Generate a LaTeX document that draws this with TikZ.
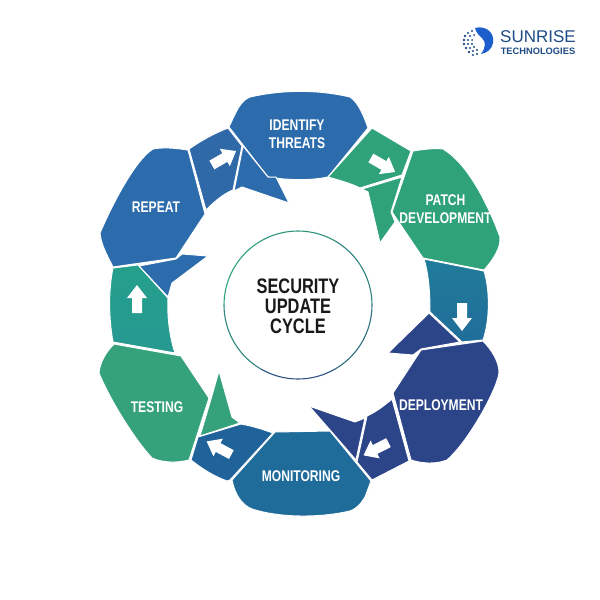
\documentclass[tikz,border=0pt]{standalone}
\usepackage{fontspec}
\setmainfont[FakeStretch=0.78]{Liberation Sans}
\newfontfamily\logofont{Liberation Sans}
\definecolor{cblue}{HTML}{2C6CAC}
\definecolor{cblueb}{HTML}{2F69A8}
\definecolor{cgreen}{HTML}{2FA27A}
\definecolor{cnavy}{HTML}{2C4588}
\definecolor{cmon}{HTML}{1F6C9A}
\definecolor{cleft}{HTML}{20629A}
\definecolor{cteal}{HTML}{25A08C}
\definecolor{cright}{HTML}{1F729C}
\definecolor{ctest}{HTML}{36A27B}
\definecolor{clogo}{HTML}{1F4C85}
\tikzset{
  seg/.style={draw=white,line width=1pt,line join=round},
  lab/.style={text=white,font=\bfseries\fontsize{15.5}{18}\selectfont,align=center,inner sep=0pt},
  ttl/.style={text=black!90,font=\bfseries\fontsize{21}{20}\selectfont,align=center,inner sep=0pt},
  whitearrow/.style={fill=white,draw=none}
}
\newcommand{\warrow}[3]{\fill[whitearrow,shift={(#1,#2)},rotate=-#3] (14,0) -- (1,-10) -- (1,-5) -- (-14,-5) -- (-14,5) -- (1,5) -- (1,10) -- cycle;}
\begin{document}
\begin{tikzpicture}[x=1pt,y=-1pt]
\useasboundingbox (0,0) rectangle (600,600);
\fill[white] (0,0) rectangle (600,600);
% identify threats
\draw[seg,fill=cblue] (229,127) .. controls (236,112) and (240,101) .. (250,97) .. controls (285,89) and (320,90) .. (350,97) .. controls (358,102) and (364,116) .. (368,128) -- (328,177) .. controls (310,181) and (285,180) .. (268,177) -- cycle;
% connector repeat-identify
\draw[seg,fill=cblueb] (189,149) .. controls (202,140) and (215,133) .. (228,128) -- (242,146) -- (233,190) .. controls (223,194) and (214,202) .. (206,210) -- cycle;
\draw[seg,fill=cblue] (243,146) -- (268,177) -- (276,177) -- (289,203) -- (242,187) -- (234,191) -- cycle;
% repeat
\draw[seg,fill=cblue] (188,150) .. controls (175,148) and (163,147) .. (153,149) .. controls (135,160) and (112,205) .. (100,233) .. controls (101,245) and (108,257) .. (113,267) -- (176,258) -- (205,214) -- cycle;
\draw[seg,fill=cblue] (139,266) -- (176,259) -- (182,254) -- (208,256) -- (172,283) -- (168,297) -- cycle;
% left teal connector
\draw[seg,top color=cteal,bottom color=cteal!85!cblue] (113,268) -- (138,265) -- (168,298) .. controls (167,318) and (170,338) .. (175,353) -- (113,342) .. controls (109,320) and (108,292) .. (113,268) -- cycle;
% testing
\draw[seg,fill=ctest] (114,344) -- (181,356) -- (209,398) -- (189,460) .. controls (178,463) and (163,463) .. (152,458) .. controls (135,440) and (110,400) .. (99,373) .. controls (100,362) and (106,352) .. (114,344) -- cycle;
\draw[seg,fill=ctest] (211,399) -- (219,371) -- (232,417) -- (240,423) -- (200,436) -- cycle;
% left blue connector
\draw[seg,fill=cleft] (241,424) .. controls (252,426) and (262,429) .. (273,433) -- (230,480) -- (227,481) .. controls (213,476) and (201,468) .. (191,460) -- (198,437) -- cycle;
% monitoring
\draw[seg,fill=cmon] (275,432) -- (330,431) -- (371,481) -- (365,497) .. controls (360,505) and (356,509) .. (350,511) .. controls (320,518) and (280,518) .. (252,509) .. controls (242,505) and (235,495) .. (232,480) -- cycle;
% deployment tail lower + connector
\draw[seg,fill=cnavy] (309,406) -- (355,422) -- (365,418) -- (356,460) -- (330,430) -- cycle;
\draw[seg,fill=cnavy] (367,416) .. controls (376,412) and (385,405) .. (392,399) -- (409,461) -- (372,480) -- (357,462) -- cycle;
% deployment
\draw[seg,fill=cnavy] (393,393) -- (421,350) -- (483,341) .. controls (492,350) and (499,362) .. (499,372) .. controls (499,385) and (470,440) .. (447,460) .. controls (435,465) and (420,463) .. (411,460) -- cycle;
\draw[seg,fill=cnavy] (429,313) -- (460,342) -- (421,349) -- (413,355) -- (388,353) -- cycle;
% right connector
\draw[seg,top color=cright!80!cteal,bottom color=cright!90!cnavy] (424,259) -- (484,271) .. controls (490,290) and (490,320) .. (483,340) -- (462,342) -- (430,312) .. controls (430,295) and (429,275) .. (424,259) -- cycle;
% patch
\draw[seg,fill=cgreen] (413,151) .. controls (425,149) and (436,148) .. (443,149) .. controls (470,165) and (490,210) .. (500,237) .. controls (501,248) and (493,260) .. (484,270) -- (423,258) -- (392,212) -- cycle;
\draw[seg,fill=cgreen] (372,128) -- (411,151) -- (402,175) -- (360,188) .. controls (350,183) and (338,180) .. (328,177) -- cycle;
\draw[seg,fill=cgreen] (402,177) -- (391,212) -- (395,222) -- (380,243) -- (368,192) -- (362,189) -- cycle;
% arrows
\warrow{224}{158}{-30}
\warrow{383}{165}{30}
\warrow{462}{317}{90}
\warrow{376}{449}{153}
\warrow{219}{448}{208}
\warrow{137}{299}{-90}
% central circle
\node[circle,minimum size=148pt,inner sep=0pt] (hub) at (298,305) {};
\foreach \a/\b/\m in {-180/-120/0,-120/-60/15,-60/0/35,0/60/55,60/120/85,120/180/30}{
  \colorlet{arcc}{cnavy!\m!cgreen}
  \draw[arcc,line width=1.1pt] (298,305) ++(\a:74) arc[start angle=\a,end angle=\b,radius=74];
}
% labels
\node[ttl] (title) at (298,306) {SECURITY\\UPDATE\\CYCLE};
\node[lab] (identify) at (297,134) {IDENTIFY\\THREATS};
\node[lab] (patch) at (445.5,209) {PATCH\\DEVELOPMENT};
\node[lab] (deployment) at (441,405) {DEPLOYMENT};
\node[lab] (monitoring) at (301,476) {MONITORING};
\node[lab] (testing) at (157,407) {TESTING};
\node[lab] (repeat) at (156,207) {REPEAT};
% logo
\fill[cblue!70!blue!90!cyan] (475,28) .. controls (486,25) and (495,33) .. (493,43) .. controls (492,49) and (487,53) .. (481,54) .. controls (486,47) and (486,42) .. (482,38) .. controls (479,35) and (476,33) .. (475,28) -- cycle;
\foreach \x/\y/\r in {472/31/1.2,468/33/1.2,465/36/1.3,470/36/1.1,474/35/1,464/40/1.4,468/40/1.2,472/40/1,464/44/1.4,468/44/1.2,472/44/1.1,466/48/1.4,470/48/1.2,474/47/1.1,469/52/1.3,473/51/1.2,477/50/1.1,473/55/1.2,477/54/1.1}{
  \fill[clogo] (\x,\y) circle (\r);
}
\node[text=clogo,inner sep=0pt,font=\logofont\fontsize{17}{17}\selectfont,anchor=center] (logoa) at (538,37) {SUNRISE};
\node[text=clogo,inner sep=0pt,font=\logofont\bfseries\fontsize{9.3}{10}\selectfont,anchor=center] (logob) at (538,51) {TECHNOLOGIES};
\end{tikzpicture}
\end{document}
